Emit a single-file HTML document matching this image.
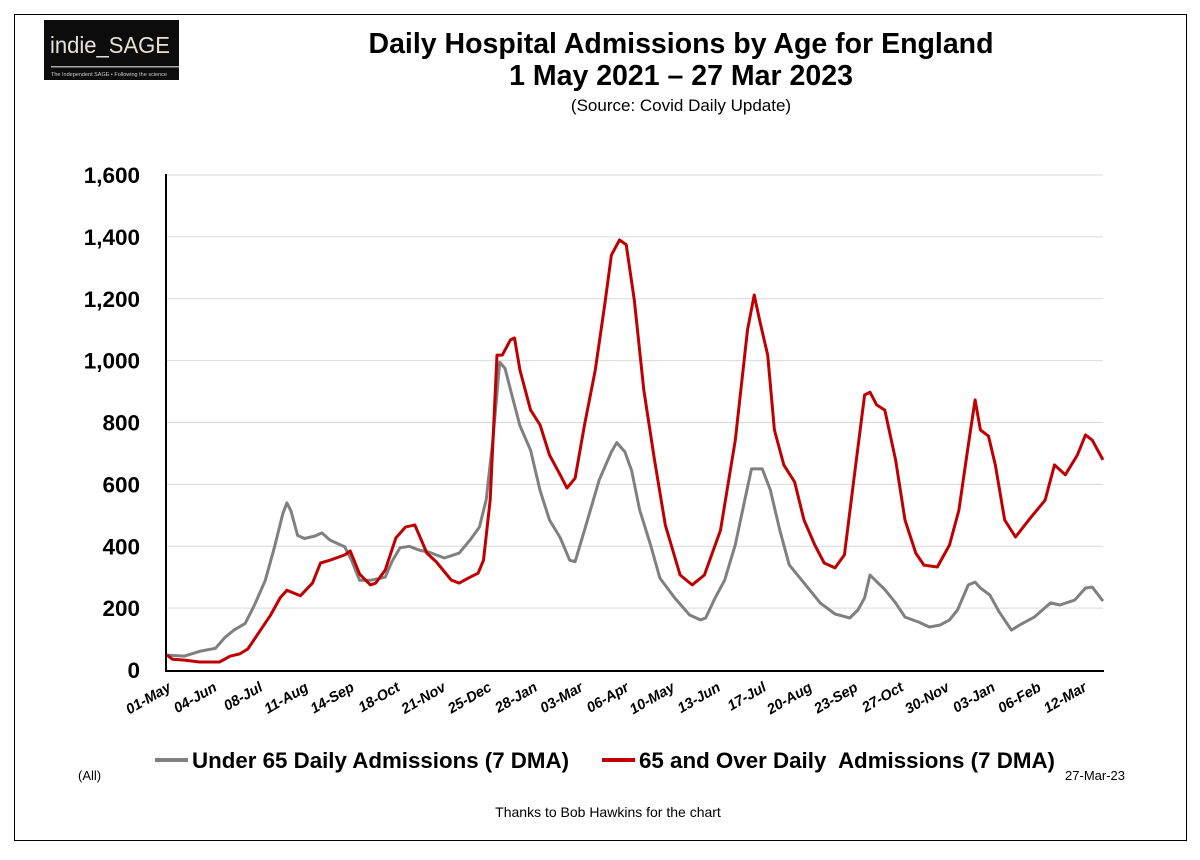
<!DOCTYPE html>
<html><head><meta charset="utf-8"><style>
body{margin:0;background:#fff;font-family:"Liberation Sans",sans-serif}
</style></head><body>
<svg width="1200" height="855" viewBox="0 0 1200 855" xmlns="http://www.w3.org/2000/svg">
<rect x="14.5" y="14.5" width="1172" height="826" fill="#fff" stroke="#000"/>
<g>
<rect x="44" y="20" width="135" height="60" fill="#0c0c0c"/>
<text x="50" y="53" fill="#e8e0d8" font-size="23" font-family="Liberation Sans" textLength="120" lengthAdjust="spacingAndGlyphs">indie_SAGE</text>
<rect x="51" y="66" width="128" height="1.5" fill="#aaa"/>
<text x="51" y="76" fill="#ccc" font-size="5.5">The Independent SAGE • Following the science</text>
</g>
<text x="681" y="53" text-anchor="middle" font-size="28.5" font-weight="bold">Daily Hospital Admissions by Age for England</text>
<text x="681" y="85" text-anchor="middle" font-size="28.5" font-weight="bold">1 May 2021 – 27 Mar 2023</text>
<text x="681" y="111" text-anchor="middle" font-size="17">(Source: Covid Daily Update)</text>
<g id="grid"></g><g id="yt"></g><g id="xt"></g><g id="series"></g>
<line x1="166" y1="174" x2="166" y2="671" stroke="#000" stroke-width="2"/>
<line x1="165" y1="671" x2="1104" y2="671" stroke="#000" stroke-width="2"/>
<g>
<line x1="155" y1="760" x2="188" y2="760" stroke="#808080" stroke-width="4"/>
<text x="192" y="768" font-size="22" font-weight="bold" textLength="377" lengthAdjust="spacingAndGlyphs">Under 65 Daily Admissions (7 DMA)</text>
<line x1="602" y1="760" x2="635" y2="760" stroke="#c00000" stroke-width="4"/>
<text x="639" y="768" font-size="22" font-weight="bold" xml:space="preserve" textLength="416" lengthAdjust="spacingAndGlyphs">65 and Over Daily  Admissions (7 DMA)</text>
</g>
<text x="78" y="780" font-size="13">(All)</text>
<text x="1125" y="780" text-anchor="end" font-size="13">27-Mar-23</text>
<text x="608" y="817" text-anchor="middle" font-size="14">Thanks to Bob Hawkins for the chart</text>
</svg>
<script>
const yTicks=[0,200,400,600,800,1000,1200,1400,1600];
const xLabels=["01-May","04-Jun","08-Jul","11-Aug","14-Sep","18-Oct","21-Nov","25-Dec","28-Jan","03-Mar","06-Apr","10-May","13-Jun","17-Jul","20-Aug","23-Sep","27-Oct","30-Nov","03-Jan","06-Feb","12-Mar"];
const under65Days=[0,13,24,36,43,50,58,65,73,80,86,89,92,97,102,110,115,121,132,137,143,151,162,167,173,180,187,195,206,217,225,232,237,242,247,251,256,262,270,277,284,292,299,303,310,321,330,334,340,345,351,359,366,377,388,396,400,407,414,422,429,434,442,448,455,462,470,477,485,496,507,513,518,522,528,533,541,548,558,566,574,581,587,595,600,604,611,618,627,633,644,656,663,674,682,687,695];
const under65Vals=[48,45,60,70,105,130,150,210,290,400,505,540,515,435,425,433,443,420,398,355,290,290,300,350,395,400,388,380,362,378,420,462,550,745,995,975,890,790,710,580,485,427,355,350,452,615,705,735,705,645,517,405,297,233,178,162,168,233,290,405,550,650,650,582,452,340,297,260,217,181,168,194,233,307,281,260,217,171,155,139,145,162,194,275,284,265,242,187,129,145,171,217,210,226,265,268,223];
const over65Days=[0,4,13,24,39,47,54,60,68,77,84,89,99,108,114,121,132,136,143,151,155,162,170,177,184,193,200,211,217,225,231,235,240,245,249,255,258,262,270,277,284,292,297,303,310,318,325,330,336,341,347,354,362,370,381,390,399,411,422,431,436,440,446,451,458,466,473,481,488,496,503,510,518,522,527,533,541,548,556,562,572,581,588,595,600,604,610,615,622,630,641,652,659,667,676,682,687,695];
const over65Vals=[48,35,32,26,26,45,52,68,120,178,233,258,240,281,346,355,372,385,310,275,281,323,427,462,469,378,349,291,281,300,313,355,550,1018,1018,1067,1073,970,840,792,695,630,588,620,792,970,1180,1341,1390,1375,1196,905,679,469,307,275,307,452,743,1099,1212,1131,1018,776,663,608,485,404,346,330,372,614,889,898,857,840,679,485,378,339,333,404,517,727,873,776,756,663,485,430,491,549,663,631,695,760,743,679];
const X0=167,X1=1103,NDAYS=695,Y0=670,Y1=175,YMAX=1600;
const xs=d=>X0+(X1-X0)*d/NDAYS, ys=v=>Y0-(Y0-Y1)*v/YMAX;
const NS="http://www.w3.org/2000/svg";
function mk(t,a,p){const e=document.createElementNS(NS,t);for(const k in a)e.setAttribute(k,a[k]);p.appendChild(e);return e;}
const grid=document.getElementById('grid'),yt=document.getElementById('yt'),xt=document.getElementById('xt'),ser=document.getElementById('series');
yTicks.forEach(v=>{
 if(v>0){const l=mk('line',{x1:167,x2:1103,y1:ys(v),y2:ys(v),stroke:'#d9d9d9','stroke-width':1},grid);
 
 }
 const t=mk('text',{x:140,y:ys(v)+8,'text-anchor':'end','font-size':22.5,'font-weight':'bold'},yt);
 t.textContent=v.toLocaleString('en-US');
 
 
});
xLabels.forEach((s,i)=>{
 const x=xs(i*34)+5, y=690;
 const t=mk('text',{x:x,y:y,'text-anchor':'end','font-size':14.5,'font-weight':'bold','font-style':'italic',transform:`rotate(-30 ${x} ${y})`},xt);
 t.textContent=s;
 
 
});
function line(days,vals,color,name){
 const d=days.map((dd,i)=>(i?'L':'M')+xs(dd).toFixed(1)+','+ys(vals[i]).toFixed(1)).join('');
 const p=mk('path',{d:d,fill:'none',stroke:color,'stroke-width':3,'stroke-linejoin':'round'},ser);
 
 
}
line(under65Days,under65Vals,'#808080','under65-line');
line(over65Days,over65Vals,'#c00000','over65-line');
</script>
</body></html>
